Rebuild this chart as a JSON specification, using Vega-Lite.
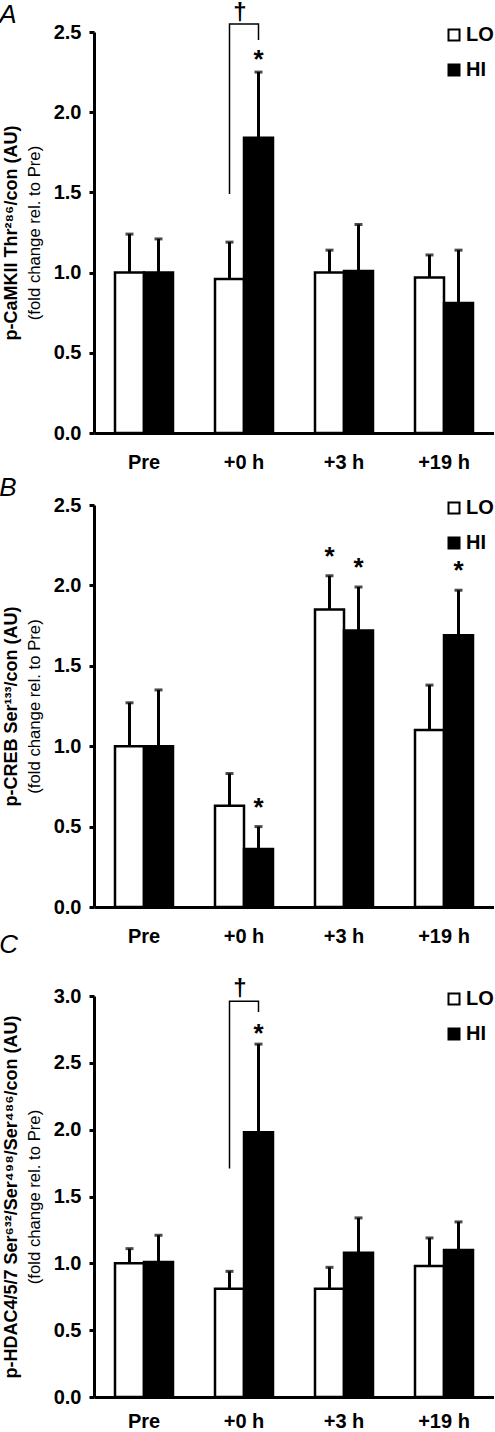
{
  "$schema": "https://vega.github.io/schema/vega-lite/v6.json",
  "padding": {"left": -1, "top": 0, "right": 0, "bottom": 0},
  "autosize": {"type": "pad"},
  "config": {
    "font": "Liberation Sans",
    "view": {"stroke": null},
    "axis": {"domainColor": "black", "domainWidth": 3, "tickColor": "black", "tickWidth": 3, "labelColor": "black", "titleColor": "black", "labelFont": "Liberation Sans", "titleFont": "Liberation Sans", "grid": false},
    "title": {"font": "Liberation Sans", "fontSize": 26, "fontStyle": "italic", "fontWeight": "normal", "color": "black", "anchor": "start", "frame": "bounds", "baseline": "alphabetic", "dx": -3},
    "legend": {"orient": "none", "legendX": 350, "legendY": -7, "title": null, "symbolType": "square", "symbolSize": 121, "symbolStrokeWidth": 2, "symbolStrokeColor": "black", "labelFontSize": 20, "labelFontWeight": "bold", "labelFont": "Liberation Sans", "labelColor": "black", "rowPadding": 15, "labelOffset": 2, "padding": 0}
  },
  "datasets": {
    "A": [
      {"time": "Pre", "group": "LO", "value": 1.00, "upper": 1.24, "star": false},
      {"time": "Pre", "group": "HI", "value": 1.00, "upper": 1.21, "star": false},
      {"time": "+0 h", "group": "LO", "value": 0.96, "upper": 1.19, "star": false},
      {"time": "+0 h", "group": "HI", "value": 1.84, "upper": 2.25, "star": true},
      {"time": "+3 h", "group": "LO", "value": 1.00, "upper": 1.14, "star": false},
      {"time": "+3 h", "group": "HI", "value": 1.01, "upper": 1.30, "star": false},
      {"time": "+19 h", "group": "LO", "value": 0.97, "upper": 1.11, "star": false},
      {"time": "+19 h", "group": "HI", "value": 0.81, "upper": 1.14, "star": false}
    ],
    "B": [
      {"time": "Pre", "group": "LO", "value": 1.00, "upper": 1.27, "star": false},
      {"time": "Pre", "group": "HI", "value": 1.00, "upper": 1.35, "star": false},
      {"time": "+0 h", "group": "LO", "value": 0.63, "upper": 0.83, "star": false},
      {"time": "+0 h", "group": "HI", "value": 0.36, "upper": 0.50, "star": true},
      {"time": "+3 h", "group": "LO", "value": 1.85, "upper": 2.06, "star": true},
      {"time": "+3 h", "group": "HI", "value": 1.72, "upper": 1.99, "star": true},
      {"time": "+19 h", "group": "LO", "value": 1.10, "upper": 1.38, "star": false},
      {"time": "+19 h", "group": "HI", "value": 1.69, "upper": 1.97, "star": true}
    ],
    "C": [
      {"time": "Pre", "group": "LO", "value": 1.00, "upper": 1.11, "star": false},
      {"time": "Pre", "group": "HI", "value": 1.01, "upper": 1.21, "star": false},
      {"time": "+0 h", "group": "LO", "value": 0.81, "upper": 0.94, "star": false},
      {"time": "+0 h", "group": "HI", "value": 1.98, "upper": 2.64, "star": true},
      {"time": "+3 h", "group": "LO", "value": 0.81, "upper": 0.97, "star": false},
      {"time": "+3 h", "group": "HI", "value": 1.08, "upper": 1.34, "star": false},
      {"time": "+19 h", "group": "LO", "value": 0.98, "upper": 1.19, "star": false},
      {"time": "+19 h", "group": "HI", "value": 1.10, "upper": 1.31, "star": false}
    ],
    "A_br": [
      {"time": "+0 h", "group": "LO", "y": 1.49, "ord": 1},
      {"time": "+0 h", "group": "LO", "y": 2.55, "ord": 2},
      {"time": "+0 h", "group": "HI", "y": 2.55, "ord": 3},
      {"time": "+0 h", "group": "HI", "y": 2.45, "ord": 4}
    ],
    "A_dg": [{"time": "+0 h", "y": 2.55}],
    "C_br": [
      {"time": "+0 h", "group": "LO", "y": 1.71, "ord": 1},
      {"time": "+0 h", "group": "LO", "y": 2.96, "ord": 2},
      {"time": "+0 h", "group": "HI", "y": 2.96, "ord": 3},
      {"time": "+0 h", "group": "HI", "y": 2.88, "ord": 4}
    ],
    "C_dg": [{"time": "+0 h", "y": 2.96}]
  },
  "spacing": -14,
  "resolve": {"scale": {"fill": "independent", "x": "independent", "y": "independent", "xOffset": "independent"}},
  "vconcat": [
    {
      "spacing": 3,
      "resolve": {"scale": {"fill": "independent", "x": "independent", "y": "independent", "xOffset": "independent"}},
      "vconcat": [
        {
          "width": 400, "height": 401,
          "title": {"text": "A", "offset": -27},
          "resolve": {"axis": {"y": "independent"}},
          "layer": [
            {"data": {"name": "A"}, "mark": {"type": "bar", "stroke": "black", "strokeWidth": 2.5},
             "encoding": {
               "x": {"field": "time", "type": "nominal", "sort": ["Pre", "+0 h", "+3 h", "+19 h"], "scale": {"paddingInner": 0.42, "paddingOuter": 0.21}, "axis": {"title": null, "labelAngle": 0, "ticks": false, "labelPadding": 19, "labelFontSize": 20, "labelFontWeight": "bold"}},
               "xOffset": {"field": "group", "type": "nominal", "sort": ["LO", "HI"], "scale": {"paddingInner": 0, "paddingOuter": 0}},
               "y": {"field": "value", "type": "quantitative", "scale": {"domain": [0, 2.5], "nice": false}, "axis": {"title": "p-CaMKII Thr²⁸⁶/con (AU)", "titleFontSize": 18, "titleFontWeight": "bold", "titlePadding": 33, "values": [0, 0.5, 1, 1.5, 2, 2.5], "format": ".1f", "labelFontSize": 20, "labelFontWeight": "bold", "labelPadding": 8, "tickSize": 5}},
               "fill": {"field": "group", "type": "nominal", "scale": {"domain": ["LO", "HI"], "range": ["white", "black"]}}
             }},
            {"data": {"name": "A"}, "mark": {"type": "rule", "strokeWidth": 3, "color": "black"},
             "encoding": {
               "x": {"field": "time", "type": "nominal", "sort": ["Pre", "+0 h", "+3 h", "+19 h"]},
               "xOffset": {"field": "group", "type": "nominal", "sort": ["LO", "HI"]},
               "y": {"field": "value", "type": "quantitative", "axis": {"orient": "left", "title": "(fold change rel. to Pre)", "labels": false, "ticks": false, "domain": false, "titlePadding": 51, "titleFontWeight": "normal", "titleFontSize": 16.7}},
               "y2": {"field": "upper"}
             }},
            {"data": {"name": "A"}, "mark": {"type": "tick", "thickness": 3, "size": 8, "color": "black"},
             "encoding": {
               "x": {"field": "time", "type": "nominal", "sort": ["Pre", "+0 h", "+3 h", "+19 h"]},
               "xOffset": {"field": "group", "type": "nominal", "sort": ["LO", "HI"]},
               "y": {"field": "upper", "type": "quantitative", "axis": null}
             }},
            {"data": {"name": "A"}, "transform": [{"filter": "datum.star"}], "mark": {"type": "text", "text": "*", "fontSize": 26, "fontWeight": "bold", "baseline": "alphabetic", "dy": -4, "color": "black"},
             "encoding": {
               "x": {"field": "time", "type": "nominal", "sort": ["Pre", "+0 h", "+3 h", "+19 h"]},
               "xOffset": {"field": "group", "type": "nominal", "sort": ["LO", "HI"]},
               "y": {"field": "upper", "type": "quantitative", "axis": null}
             }},
            {"data": {"name": "A_br"}, "mark": {"type": "line", "strokeWidth": 1.5, "color": "black", "clip": false},
             "encoding": {
               "x": {"field": "time", "type": "nominal", "sort": ["Pre", "+0 h", "+3 h", "+19 h"]},
               "xOffset": {"field": "group", "type": "nominal", "sort": ["LO", "HI"]},
               "y": {"field": "y", "type": "quantitative", "axis": null},
               "order": {"field": "ord"}
             }},
            {"data": {"name": "A_dg"}, "mark": {"type": "text", "text": "†", "fontSize": 24, "fontWeight": "bold", "baseline": "alphabetic", "dy": -4, "dx": -4, "color": "black"},
             "encoding": {
               "x": {"field": "time", "type": "nominal", "sort": ["Pre", "+0 h", "+3 h", "+19 h"]},
               "y": {"field": "y", "type": "quantitative", "axis": null}
             }}
          ]
        },
        {
          "width": 400, "height": 402,
          "title": {"text": "B", "offset": -6},
          "resolve": {"axis": {"y": "independent"}},
          "layer": [
            {"data": {"name": "B"}, "mark": {"type": "bar", "stroke": "black", "strokeWidth": 2.5},
             "encoding": {
               "x": {"field": "time", "type": "nominal", "sort": ["Pre", "+0 h", "+3 h", "+19 h"], "scale": {"paddingInner": 0.42, "paddingOuter": 0.21}, "axis": {"title": null, "labelAngle": 0, "ticks": false, "labelPadding": 19, "labelFontSize": 20, "labelFontWeight": "bold"}},
               "xOffset": {"field": "group", "type": "nominal", "sort": ["LO", "HI"], "scale": {"paddingInner": 0, "paddingOuter": 0}},
               "y": {"field": "value", "type": "quantitative", "scale": {"domain": [0, 2.5], "nice": false}, "axis": {"title": "p-CREB Ser¹³³/con (AU)", "titleFontSize": 18, "titleFontWeight": "bold", "titlePadding": 33, "values": [0, 0.5, 1, 1.5, 2, 2.5], "format": ".1f", "labelFontSize": 20, "labelFontWeight": "bold", "labelPadding": 8, "tickSize": 5}},
               "fill": {"field": "group", "type": "nominal", "scale": {"domain": ["LO", "HI"], "range": ["white", "black"]}}
             }},
            {"data": {"name": "B"}, "mark": {"type": "rule", "strokeWidth": 3, "color": "black"},
             "encoding": {
               "x": {"field": "time", "type": "nominal", "sort": ["Pre", "+0 h", "+3 h", "+19 h"]},
               "xOffset": {"field": "group", "type": "nominal", "sort": ["LO", "HI"]},
               "y": {"field": "value", "type": "quantitative", "axis": {"orient": "left", "title": "(fold change rel. to Pre)", "labels": false, "ticks": false, "domain": false, "titlePadding": 51, "titleFontWeight": "normal", "titleFontSize": 16.7}},
               "y2": {"field": "upper"}
             }},
            {"data": {"name": "B"}, "mark": {"type": "tick", "thickness": 3, "size": 8, "color": "black"},
             "encoding": {
               "x": {"field": "time", "type": "nominal", "sort": ["Pre", "+0 h", "+3 h", "+19 h"]},
               "xOffset": {"field": "group", "type": "nominal", "sort": ["LO", "HI"]},
               "y": {"field": "upper", "type": "quantitative", "axis": null}
             }},
            {"data": {"name": "B"}, "transform": [{"filter": "datum.star"}], "mark": {"type": "text", "text": "*", "fontSize": 26, "fontWeight": "bold", "baseline": "alphabetic", "dy": -11, "color": "black"},
             "encoding": {
               "x": {"field": "time", "type": "nominal", "sort": ["Pre", "+0 h", "+3 h", "+19 h"]},
               "xOffset": {"field": "group", "type": "nominal", "sort": ["LO", "HI"]},
               "y": {"field": "upper", "type": "quantitative", "axis": null}
             }}
          ]
        }
      ]
    },
    {
      "width": 400, "height": 401,
      "title": {"text": "C", "offset": 19},
      "resolve": {"axis": {"y": "independent"}},
      "layer": [
        {"data": {"name": "C"}, "mark": {"type": "bar", "stroke": "black", "strokeWidth": 2.5},
         "encoding": {
           "x": {"field": "time", "type": "nominal", "sort": ["Pre", "+0 h", "+3 h", "+19 h"], "scale": {"paddingInner": 0.42, "paddingOuter": 0.21}, "axis": {"title": null, "labelAngle": 0, "ticks": false, "labelPadding": 14, "labelFontSize": 20, "labelFontWeight": "bold"}},
           "xOffset": {"field": "group", "type": "nominal", "sort": ["LO", "HI"], "scale": {"paddingInner": 0, "paddingOuter": 0}},
           "y": {"field": "value", "type": "quantitative", "scale": {"domain": [0, 3.0], "nice": false}, "axis": {"title": "p-HDAC4/5/7 Ser⁶³²/Ser⁴⁹⁸/Ser⁴⁸⁶/con (AU)", "titleFontSize": 18, "titleFontWeight": "bold", "titlePadding": 33, "values": [0, 0.5, 1, 1.5, 2, 2.5, 3], "format": ".1f", "labelFontSize": 20, "labelFontWeight": "bold", "labelPadding": 8, "tickSize": 5}},
           "fill": {"field": "group", "type": "nominal", "scale": {"domain": ["LO", "HI"], "range": ["white", "black"]}}
         }},
        {"data": {"name": "C"}, "mark": {"type": "rule", "strokeWidth": 3, "color": "black"},
         "encoding": {
           "x": {"field": "time", "type": "nominal", "sort": ["Pre", "+0 h", "+3 h", "+19 h"]},
           "xOffset": {"field": "group", "type": "nominal", "sort": ["LO", "HI"]},
           "y": {"field": "value", "type": "quantitative", "axis": {"orient": "left", "title": "(fold change rel. to Pre)", "labels": false, "ticks": false, "domain": false, "titlePadding": 51, "titleFontWeight": "normal", "titleFontSize": 16.7}},
           "y2": {"field": "upper"}
         }},
        {"data": {"name": "C"}, "mark": {"type": "tick", "thickness": 3, "size": 8, "color": "black"},
         "encoding": {
           "x": {"field": "time", "type": "nominal", "sort": ["Pre", "+0 h", "+3 h", "+19 h"]},
           "xOffset": {"field": "group", "type": "nominal", "sort": ["LO", "HI"]},
           "y": {"field": "upper", "type": "quantitative", "axis": null}
         }},
        {"data": {"name": "C"}, "transform": [{"filter": "datum.star"}], "mark": {"type": "text", "text": "*", "fontSize": 26, "fontWeight": "bold", "baseline": "alphabetic", "dy": -2, "color": "black"},
         "encoding": {
           "x": {"field": "time", "type": "nominal", "sort": ["Pre", "+0 h", "+3 h", "+19 h"]},
           "xOffset": {"field": "group", "type": "nominal", "sort": ["LO", "HI"]},
           "y": {"field": "upper", "type": "quantitative", "axis": null}
         }},
        {"data": {"name": "C_br"}, "mark": {"type": "line", "strokeWidth": 1.5, "color": "black", "clip": false},
         "encoding": {
           "x": {"field": "time", "type": "nominal", "sort": ["Pre", "+0 h", "+3 h", "+19 h"]},
           "xOffset": {"field": "group", "type": "nominal", "sort": ["LO", "HI"]},
           "y": {"field": "y", "type": "quantitative", "axis": null},
           "order": {"field": "ord"}
         }},
        {"data": {"name": "C_dg"}, "mark": {"type": "text", "text": "†", "fontSize": 24, "fontWeight": "bold", "baseline": "alphabetic", "dy": -5, "dx": -4, "color": "black"},
         "encoding": {
           "x": {"field": "time", "type": "nominal", "sort": ["Pre", "+0 h", "+3 h", "+19 h"]},
           "y": {"field": "y", "type": "quantitative", "axis": null}
         }}
      ]
    }
  ]
}
